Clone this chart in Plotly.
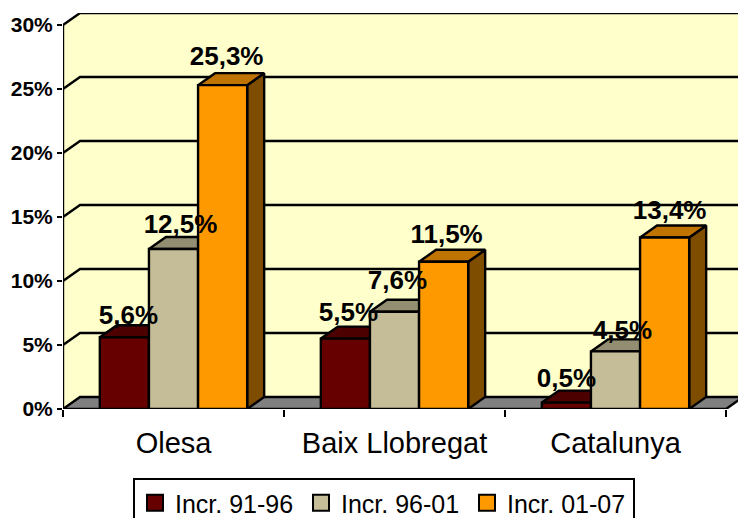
import plotly.graph_objects as go

categories = ["Olesa", "Baix Llobregat", "Catalunya"]
series_names = ["Incr. 91-96", "Incr. 96-01", "Incr. 01-07"]
incr_91_96 = [5.6, 5.5, 0.5]
incr_96_01 = [12.5, 7.6, 4.5]
incr_01_07 = [25.3, 11.5, 13.4]
value_labels = [["5,6%", "5,5%", "0,5%"], ["12,5%", "7,6%", "4,5%"], ["25,3%", "11,5%", "13,4%"]]
y_ticks = [0, 5, 10, 15, 20, 25, 30]
y_tick_labels = ["0%", "5%", "10%", "15%", "20%", "25%", "30%"]

values = [incr_91_96, incr_96_01, incr_01_07]
front = ["#660000", "#C4BD97", "#FF9900"]
top = ["#4C0000", "#938E71", "#BF7300"]
side = ["#330000", "#625F4C", "#7F4D00"]
FONT = "Liberation Sans, Arial, sans-serif"

# Label nudges in pixels (series by category), only for placing the text
label_shift_x = [[4, 3, 0], [7, 3, 7], [4, 3, 5]]
label_lift = [[20, 24.6, 22.6], [23, 29, 19], [27, 25, 24.5]]

DX, DY = 17 / 221, 12 / 12.8
XMAX, YMAX = 675 / 221, 396 / 12.8
GAP = 1.5
BAR_W = 1 / (3 + GAP)
LW = 2.4

fig = go.Figure()


def poly(xs, ys, fill, line=True, xa="x", ya="y"):
    fig.add_trace(go.Scatter(x=xs, y=ys, mode="lines", fill="toself", fillcolor=fill,
                             line=dict(color="black", width=LW if line else 0),
                             showlegend=False, hoverinfo="skip", xaxis=xa, yaxis=ya))


# Walls and floor
poly([0, 0, DX, 3 + DX, 3 + DX, 3, 0], [0, 30, 30 + DY, 30 + DY, DY, 0, 0], "#FFFFCC", line=False)
poly([0, DX, 3 + DX, 3, 0], [0, DY, DY, 0, 0], "#808080")

# Grid lines with their slanted part on the side wall
gx, gy = [], []
for v in y_ticks[1:]:
    gx += [0, DX, 3 + DX, None]
    gy += [v, v + DY, v + DY, None]
gx += [0, 0]
gy += [0, 30]
fig.add_trace(go.Scatter(x=gx, y=gy, mode="lines", line=dict(color="black", width=LW),
                         showlegend=False, hoverinfo="skip"))

# Tops and sides of the bars
for s, vals in enumerate(values):
    for c, v in enumerate(vals):
        x0 = c + (GAP / 2 + s) * BAR_W
        x1 = x0 + BAR_W
        poly([x1, x1 + DX, x1 + DX, x1, x1], [0, DY, v + DY, v, 0], side[s])
        poly([x0, x0 + DX, x1 + DX, x1, x0], [v, v + DY, v + DY, v, v], top[s])

# Fronts of the bars
centres = [c + 0.5 for c in range(3)]
for s, vals in enumerate(values):
    fig.add_trace(go.Bar(x=centres, y=vals, name=series_names[s], marker=dict(color=front[s], line=dict(color="black", width=LW)),
                         showlegend=False, hoverinfo="skip", xaxis="x2", yaxis="y2"))

# Data labels
for s, vals in enumerate(values):
    xs = [c + (GAP / 2 + s + 0.5) * BAR_W + label_shift_x[s][c] / 221 for c in range(3)]
    ys = [v + label_lift[s][c] / 12.8 for c, v in enumerate(vals)]
    fig.add_trace(go.Scatter(x=xs, y=ys, mode="text", text=value_labels[s], textposition="middle center",
                             textfont=dict(family=FONT, size=26, color="black", weight="bold"),
                             showlegend=False, hoverinfo="skip", xaxis="x2", yaxis="y2", cliponaxis=False))

# Legend entries
for s, name in enumerate(series_names):
    fig.add_trace(go.Scatter(x=[None], y=[None], mode="markers", name=name,
                             marker=dict(symbol="square", size=16, color=front[s], line=dict(color="black", width=2))))

fig.update_layout(
    width=738, height=518, autosize=False,
    margin=dict(l=63, r=0, t=13, b=109, autoexpand=False),
    paper_bgcolor="white", plot_bgcolor="white",
    barmode="group", bargap=GAP / (3 + GAP), bargroupgap=0,
    font=dict(family=FONT, color="black"),
    xaxis=dict(range=[0, XMAX], tickvals=centres, ticktext=categories, showgrid=False, zeroline=False,
               ticks="outside", ticklen=8, tickcolor="rgba(0,0,0,0)", tickfont=dict(size=29, family=FONT),
               minor=dict(tickvals=[0, 1, 2, 3], ticks="outside", ticklen=7, tickcolor="black", tickwidth=2, showgrid=False)),
    yaxis=dict(range=[0, YMAX], tickvals=y_ticks, ticktext=y_tick_labels, showgrid=False, zeroline=False,
               ticks="outside", ticklen=5, tickwidth=2, tickcolor="black",
               tickfont=dict(size=21, family=FONT, weight="bold")),
    xaxis2=dict(range=[0, XMAX], overlaying="x", visible=False),
    yaxis2=dict(range=[0, YMAX], overlaying="y", visible=False),
    legend=dict(orientation="h", x=(133 - 63) / 675, xanchor="left", y=(409 - 478) / 396, yanchor="top",
                bordercolor="black", borderwidth=2, bgcolor="white", font=dict(size=25, family=FONT),
                entrywidth=121, entrywidthmode="pixels", itemsizing="trace"),
)

fig.write_html("out.html", config=dict(displayModeBar=False),
               post_script="document.body.style.margin='0';document.documentElement.style.overflow='hidden';")
